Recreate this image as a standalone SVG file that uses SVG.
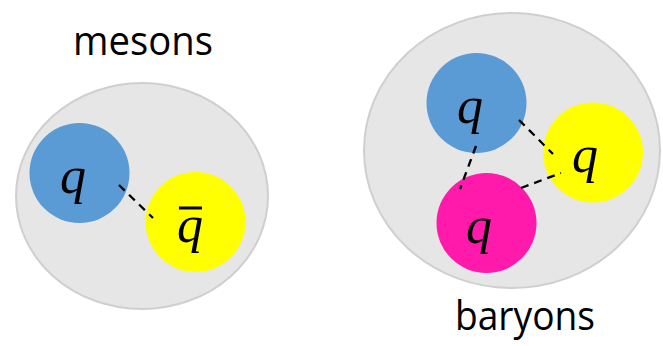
<svg xmlns="http://www.w3.org/2000/svg" width="663" height="346" viewBox="0 0 663 346">
<style>
.hadron{fill:#e6e6e6;stroke:#cfcfcf;stroke-width:2}
.blue{fill:#5b9bd5}
.yellow{fill:#ffff00}
.magenta{fill:#ff1aab}
.q{font-family:"Liberation Serif","DejaVu Serif",serif;font-style:italic;font-size:52px;fill:#000;text-anchor:middle}
.lbl{font-family:"Open Sans","Liberation Sans",sans-serif;font-size:40px;fill:#000;text-anchor:middle}
.bond{stroke:#000;stroke-width:2.3;stroke-dasharray:8,6;fill:none}
</style>
<g id="mesons">
<ellipse class="hadron" cx="142" cy="196" rx="126" ry="113"/>
<text class="lbl" x="143" y="55" textLength="140" lengthAdjust="spacingAndGlyphs">mesons</text>
</g>
<g id="meson-q">
<circle class="blue" cx="79.5" cy="173" r="50"/>
<text class="q" x="73" y="193">q</text>
</g>
<g id="meson-qbar">
<circle class="yellow" cx="195.5" cy="222" r="50"/>
<text class="q" x="190" y="242">q</text>
<line x1="179" y1="208" x2="202" y2="208" stroke="#000" stroke-width="3"/>
</g>
<g id="baryons">
<ellipse class="hadron" cx="512" cy="150.5" rx="148" ry="137.5"/>
<text class="lbl" x="525" y="330" textLength="140" lengthAdjust="spacingAndGlyphs">baryons</text>
</g>
<g id="baryon-q-blue">
<circle class="blue" cx="476.5" cy="103" r="50"/>
<text class="q" x="470" y="123">q</text>
</g>
<g id="baryon-q-yellow">
<circle class="yellow" cx="593" cy="152.5" r="50"/>
<text class="q" x="585" y="172">q</text>
</g>
<g id="baryon-q-magenta">
<circle class="magenta" cx="486.5" cy="223" r="50"/>
<text class="q" x="479" y="243">q</text>
</g>
<g id="connectors">
<line class="bond" x1="119" y1="185" x2="153" y2="218"/>
<line class="bond" x1="519" y1="120" x2="553" y2="154"/>
<line class="bond" x1="476" y1="146" x2="460" y2="189"/>
<line class="bond" x1="521" y1="188" x2="561" y2="173"/>
</g>
</svg>
